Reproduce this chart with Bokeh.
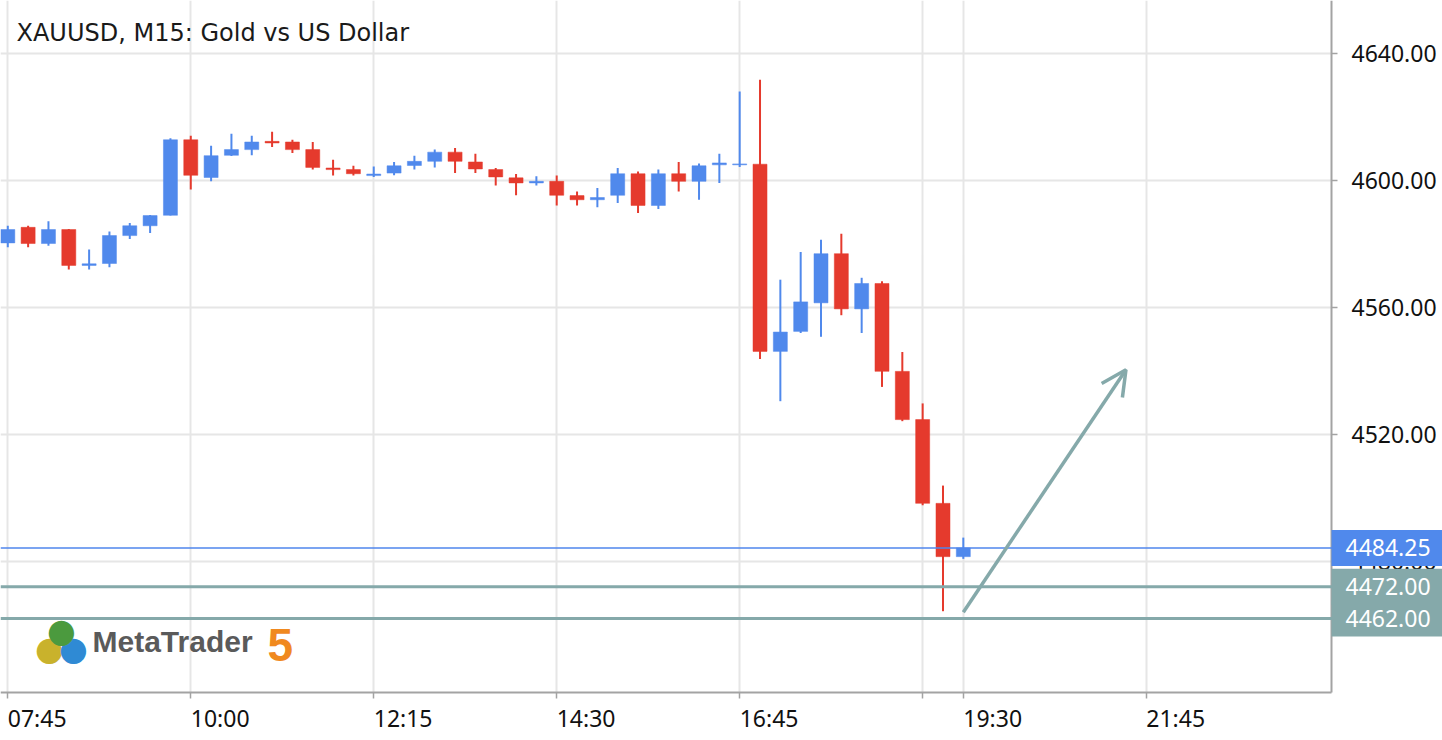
from bokeh.plotting import figure
from bokeh.models import (Range1d, FixedTicker, PrintfTickFormatter, Span, Label,
                          Arrow, OpenHead, ColumnDataSource, BoxAnnotation)
from bokeh.embed import file_html
from bokeh.resources import INLINE

# ---------------- data ----------------
bar_index = list(range(48))
opens = [4580.4, 4585.3, 4580.2, 4584.6, 4573.3, 4573.9, 4582.7, 4585.8, 4589.1, 4612.9,
         4601.0, 4608.0, 4609.8, 4612.4, 4612.2, 4609.8, 4604.0, 4603.5, 4601.6, 4602.4,
         4604.8, 4606.1, 4609.0, 4605.9, 4603.5, 4600.9, 4599.3, 4599.8, 4595.3, 4594.0,
         4595.4, 4602.2, 4592.2, 4602.2, 4599.8, 4605.0, 4605.0, 4605.2, 4546.2, 4552.5,
         4561.5, 4577.0, 4559.6, 4567.6, 4539.9, 4524.7, 4498.3, 4481.5]
highs = [4585.8, 4585.8, 4587.2, 4584.8, 4578.3, 4584.0, 4586.7, 4589.2, 4613.4, 4614.2,
         4611.0, 4614.8, 4614.2, 4615.4, 4612.9, 4612.2, 4606.6, 4604.7, 4604.5, 4605.9,
         4607.9, 4609.8, 4610.3, 4608.5, 4604.0, 4602.1, 4601.4, 4601.6, 4596.6, 4597.7,
         4604.0, 4602.9, 4603.5, 4605.9, 4605.4, 4608.5, 4628.1, 4631.8, 4568.8, 4577.5,
         4581.4, 4583.3, 4569.4, 4568.3, 4546.0, 4529.8, 4503.9, 4487.5]
lows = [4579.0, 4579.0, 4579.5, 4572.0, 4572.0, 4572.7, 4581.6, 4583.5, 4589.0, 4597.2,
        4599.8, 4607.8, 4608.0, 4610.6, 4608.7, 4603.5, 4601.6, 4601.6, 4601.2, 4601.7,
        4603.5, 4604.2, 4602.4, 4602.4, 4598.5, 4595.4, 4598.5, 4592.2, 4592.2, 4591.6,
        4593.0, 4589.8, 4591.1, 4596.6, 4594.0, 4599.3, 4604.3, 4543.8, 4530.5, 4552.0,
        4550.8, 4557.6, 4552.0, 4535.0, 4524.2, 4497.7, 4464.3, 4480.8]
closes = [4584.6, 4580.2, 4584.6, 4573.3, 4573.8, 4582.7, 4585.8, 4589.0, 4612.9, 4601.7,
          4607.9, 4609.8, 4612.2, 4611.9, 4609.8, 4604.2, 4603.5, 4602.2, 4602.1, 4604.7,
          4606.1, 4609.0, 4606.1, 4603.7, 4601.2, 4599.3, 4599.8, 4595.4, 4594.0, 4594.7,
          4602.2, 4592.2, 4602.2, 4599.8, 4604.7, 4605.6, 4605.3, 4546.2, 4552.3, 4561.8,
          4577.0, 4559.6, 4567.6, 4539.9, 4524.7, 4498.3, 4481.5, 4484.25]

x_tick_bars = [0, 9, 18, 27, 36, 45, 47, 56]
x_tick_labels = ["07:45", "10:00", "12:15", "14:30", "16:45", "", "19:30", "21:45"]
y_ticks = [4480, 4520, 4560, 4600, 4640]

last_price = 4484.25
level_upper = 4472.00
level_lower = 4462.00
arrow_x = [47, 55]
arrow_y = [4464.0, 4540.4]
title_text = "XAUUSD, M15: Gold vs US Dollar"

# ---------------- style / layout ----------------
BULL = "#5089ec"
BEAR = "#e53a2d"
TEAL = "#85a9aa"
LINE_BLUE = "#4f86ec"
GRID = "#e6e6e6"
AXIS = "#a3a3a3"
FONT = "Noto Sans"

W, H = 1442, 736
X0, X1 = -0.359, 70.57          # frame spans the whole canvas
Y0, Y1 = 4424.81, 4656.80
X_AXIS_POS = 65.11              # where the price scale sits (x ~ 1331 px)
Y_AXIS_POS = 4438.68            # where the time scale sits (y ~ 692 px)
BOX_HALF = 5.67                 # half height of a price tag (~18 px)

colors = [BULL if c >= o else BEAR for o, c in zip(opens, closes)]
src = ColumnDataSource(dict(
    x=bar_index, open=opens, high=highs, low=lows, close=closes,
    top=[max(o, c) for o, c in zip(opens, closes)],
    bottom=[min(o, c) for o, c in zip(opens, closes)],
    color=colors,
))

p = figure(width=W, height=H, output_backend="svg", toolbar_location=None,
           x_range=Range1d(X0, X1), y_range=Range1d(Y0, Y1),
           y_axis_location="right", min_border=0,
           background_fill_color="white", border_fill_color="white",
           outline_line_color=None)

# grids
p.xgrid.grid_line_color = GRID
p.xgrid.grid_line_width = 2
p.ygrid.grid_line_color = GRID
p.ygrid.grid_line_width = 2

# white masks so the grid stops at the scales
p.add_layout(BoxAnnotation(left=X_AXIS_POS, fill_color="white", fill_alpha=1,
                           line_color=None, level="underlay"))
p.add_layout(BoxAnnotation(top=Y_AXIS_POS, fill_color="white", fill_alpha=1,
                           line_color=None, level="underlay"))

# axes
p.xaxis.ticker = FixedTicker(ticks=x_tick_bars)
p.xaxis.major_label_overrides = {b: l for b, l in zip(x_tick_bars, x_tick_labels)}
p.xaxis.fixed_location = Y_AXIS_POS
p.xaxis.bounds = (X0, X_AXIS_POS)
p.xaxis.major_label_orientation = -1e-6
p.yaxis.ticker = FixedTicker(ticks=y_ticks)
p.yaxis.formatter = PrintfTickFormatter(format="%.2f")
p.yaxis.fixed_location = X_AXIS_POS
p.yaxis.bounds = (Y_AXIS_POS, Y1)
for ax in (p.xaxis, p.yaxis):
    ax.axis_line_color = AXIS
    ax.axis_line_width = 2
    ax.major_tick_line_color = AXIS
    ax.major_tick_line_width = 1.5
    ax.major_tick_out = 6
    ax.major_tick_in = 0
    ax.minor_tick_line_color = None
    ax.major_label_text_font = FONT
    ax.major_label_text_font_size = "23px"
    ax.major_label_text_color = "#111111"
p.xaxis.major_label_standoff = 20
p.yaxis.major_label_standoff = 14

# candles
p.segment(x0="x", y0="low", x1="x", y1="high", line_color="color", line_width=2, source=src)
p.vbar(x="x", width=0.69, top="top", bottom="bottom", fill_color="color",
       line_color="color", line_width=0.5, source=src)

# horizontal levels
p.add_layout(Span(location=level_upper, dimension="width", line_color=TEAL, line_width=3))
p.add_layout(Span(location=level_lower, dimension="width", line_color=TEAL, line_width=3))
p.add_layout(Span(location=last_price, dimension="width", line_color=LINE_BLUE, line_width=1.5))

# arrow
p.add_layout(Arrow(x_start=arrow_x[0], y_start=arrow_y[0], x_end=arrow_x[1], y_end=arrow_y[1],
                   line_color=TEAL, line_width=3.5,
                   end=OpenHead(size=25, line_color=TEAL, line_width=3.5)))

# price tags on the price scale
for val, bg in ((level_upper, TEAL), (level_lower, TEAL), (last_price, BULL)):
    p.add_layout(BoxAnnotation(left=X_AXIS_POS, bottom=val - BOX_HALF, top=val + BOX_HALF,
                               fill_color=bg, fill_alpha=1, line_color=None))
for val in (level_upper, level_lower, last_price):
    p.add_layout(Label(x=1345, y=val, x_units="screen", y_units="data",
                       text=f"{val:.2f}", text_color="white", text_font=FONT,
                       text_font_size="23px", text_align="left", text_baseline="middle"))

# title
p.add_layout(Label(x=16, y=704, x_units="screen", y_units="screen", text=title_text,
                   text_font="DejaVu Sans", text_font_size="24px", text_color="#1a1a1a",
                   text_align="left", text_baseline="alphabetic"))

# MetaTrader 5 logo
for lx, ly, col in ((49, 88, "#c9b22c"), (73, 88, "#2f8ad4"), (61, 106, "#4b9a3e")):
    p.add_layout(Label(x=lx, y=ly, x_units="screen", y_units="screen", text="\u25cf",
                       text_font="DejaVu Sans", text_font_size="33px", text_color=col,
                       text_align="center", text_baseline="middle"))
p.add_layout(Label(x=92, y=95, x_units="screen", y_units="screen", text="MetaTrader",
                   text_font="Liberation Sans", text_font_style="bold", text_font_size="30px",
                   text_color="#5a5a5a", text_align="left", text_baseline="alphabetic"))
p.add_layout(Label(x=267, y=92, x_units="screen", y_units="screen", text="5",
                   text_font="Liberation Sans", text_font_style="bold", text_font_size="46px",
                   text_color="#f0891f", text_align="left", text_baseline="alphabetic"))

open("out.html", "w").write(file_html(p, INLINE))
